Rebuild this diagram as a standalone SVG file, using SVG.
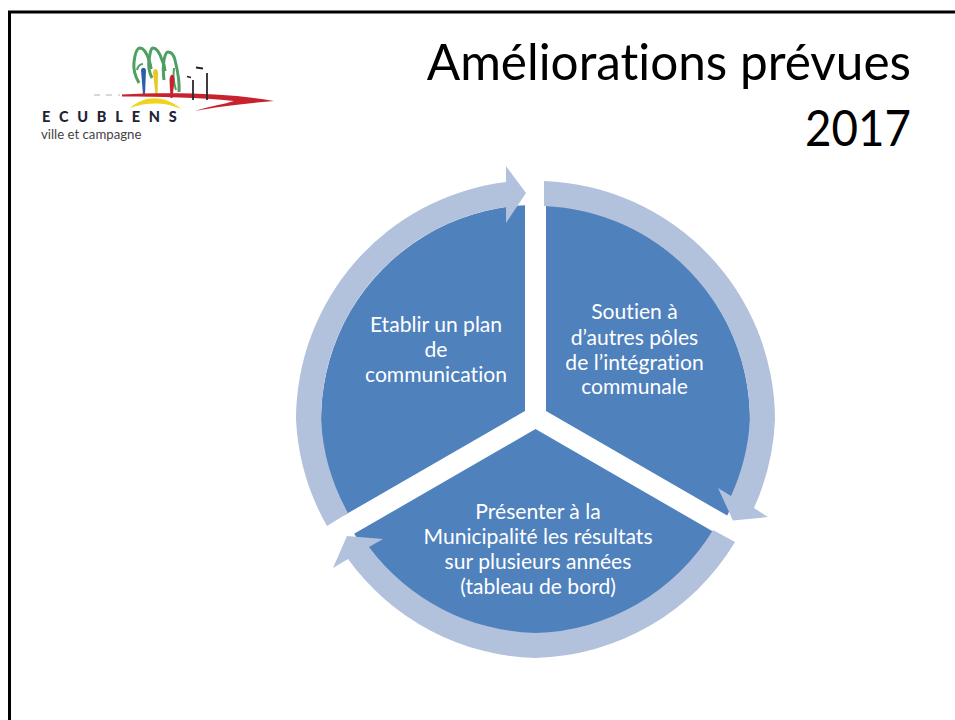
<svg xmlns="http://www.w3.org/2000/svg" width="955" height="720" viewBox="0 0 955 720">
<style>
text{font-family:Lato,"Liberation Sans",sans-serif;font-variant-ligatures:none}
.pie{fill:#4F81BD}
.ring{fill:#B2C1DC}
.lbl{fill:#fff;font-size:21.100px;text-anchor:middle}
.ttl{fill:#000;font-size:49.500px;text-anchor:end}
.tree{fill:none;stroke:#4F9E62;stroke-width:3}
</style>
<defs><filter id="soft" x="-5%" y="-5%" width="110%" height="110%"><feGaussianBlur stdDeviation="0.6"/></filter></defs>
<rect width="955" height="720" fill="#fff"/>
<path d="M9.500 720V12H955" fill="none" stroke="#000" stroke-width="3"/>
<g id="logo">
<g filter="url(#soft)">
<path class="tree" d="M139 83C135 76 133 70 134 62C135 54 137 48 140 48C144 48 147 54 149 60C150 63 151 66 151 69"/>
<path class="tree" d="M152 78C149 72 148 66 149 60C150 53 151 48 153 48C157 48 160 54 162 60C164 64 165 67 165 71"/>
<path class="tree" d="M164 80C163 72 163 66 164 60C165 55 166 52 168 52C172 52 174 56 175 60C177 68 180 80 179 92"/>
<path d="M137 70C138 66 140 64 143 64M174 68C173 76 174 84 176 90" fill="none" stroke="#4F9E62" stroke-width="2"/>
<path d="M141 70C142 67 145 67 146 70L145 95H143Z" fill="#2B5FA8"/>
<path d="M153 72C154 68 157 68 158 72L157.500 95H155.500Z" fill="#E8C820"/>
<path d="M169.500 80C170 73 174 73 174.500 80L172.500 98H170.500Z" fill="#C8202F"/>
<path d="M94 95H120" stroke="#ccc" stroke-width="1.500" stroke-dasharray="6 6" fill="none"/>
<path d="M122 94.500C170 92 230 93 274 101C240 104 215 107 195 111C210 106 225 104 234 101C200 97 160 97 122 96.500Z" fill="#C8202F"/>
<path d="M130 108C145 95 165 95 181 109C165 102 148 102 130 108Z" fill="#F2D21E"/>
<path d="M193 80V100M207 73V100" stroke="#2A2A2A" stroke-width="1.800" fill="none"/>
<path d="M187 76.500L191 77.500M196 67.500L203 68.500" stroke="#222" stroke-width="1.800" fill="none"/>
</g>
<text x="42" y="122" style="font-size:14.500px;font-weight:900;letter-spacing:8.800px;fill:#1E2433">ECUBLENS</text>
<text x="41" y="139" style="font-size:13.200px;fill:#444">ville et campagne</text>
</g>
<g id="title">
<text class="ttl" x="911" y="80">Améliorations prévues</text>
<text class="ttl" x="911" y="146" textLength="106" lengthAdjust="spacingAndGlyphs">2017</text>
</g>
<g id="node-right">
<path class="pie" d="M546 205.300A214.500 214.500 0 0 1 727.200 515.600L546 411Z"/>
<text class="lbl" x="634.500" y="318.500">Soutien à</text>
<text class="lbl" x="634.500" y="344.500">d’autres pôles</text>
<text class="lbl" x="634.500" y="369.500">de l’intégration</text>
<text class="lbl" x="634.500" y="394">communale</text>
</g>
<g id="node-bottom">
<path class="pie" d="M535.500 429L716.900 533.800A214.500 214.500 0 0 1 354.100 533.800Z"/>
<text class="lbl" x="538" y="519">Présenter à la</text>
<text class="lbl" x="538" y="544">Municipalité les résultats</text>
<text class="lbl" x="538" y="569">sur plusieurs années</text>
<text class="lbl" x="538" y="594">(tableau de bord)</text>
</g>
<g id="node-left">
<path class="pie" d="M525 205.300V411L343.800 515.600A214.500 214.500 0 0 1 525 205.300Z"/>
<text class="lbl" x="436" y="332">Etablir un plan</text>
<text class="lbl" x="436" y="357">de</text>
<text class="lbl" x="436" y="382">communication</text>
</g>
<g id="connectors">
<path class="ring" d="M544 181A239.500 239.500 0 0 1 775 419.500A239.500 239.500 0 0 1 754 508L768 517L733 520.500L718 488L731 496A214.500 214.500 0 0 0 750 419.500A214.500 214.500 0 0 0 544 206Z"/>
<path class="ring" d="M735 542A239.500 239.500 0 0 1 535.500 658A239.500 239.500 0 0 1 348 559L333 568L347 536L383 539L369 547A214.500 214.500 0 0 0 535.500 633A214.500 214.500 0 0 0 713 530Z"/>
<path class="ring" d="M327 526A239.500 239.500 0 0 1 296 419.500A239.500 239.500 0 0 1 506 182V166L526 193L506 223V207A214.500 214.500 0 0 0 321 419.500A214.500 214.500 0 0 0 348 513Z"/>
</g>
</svg>
